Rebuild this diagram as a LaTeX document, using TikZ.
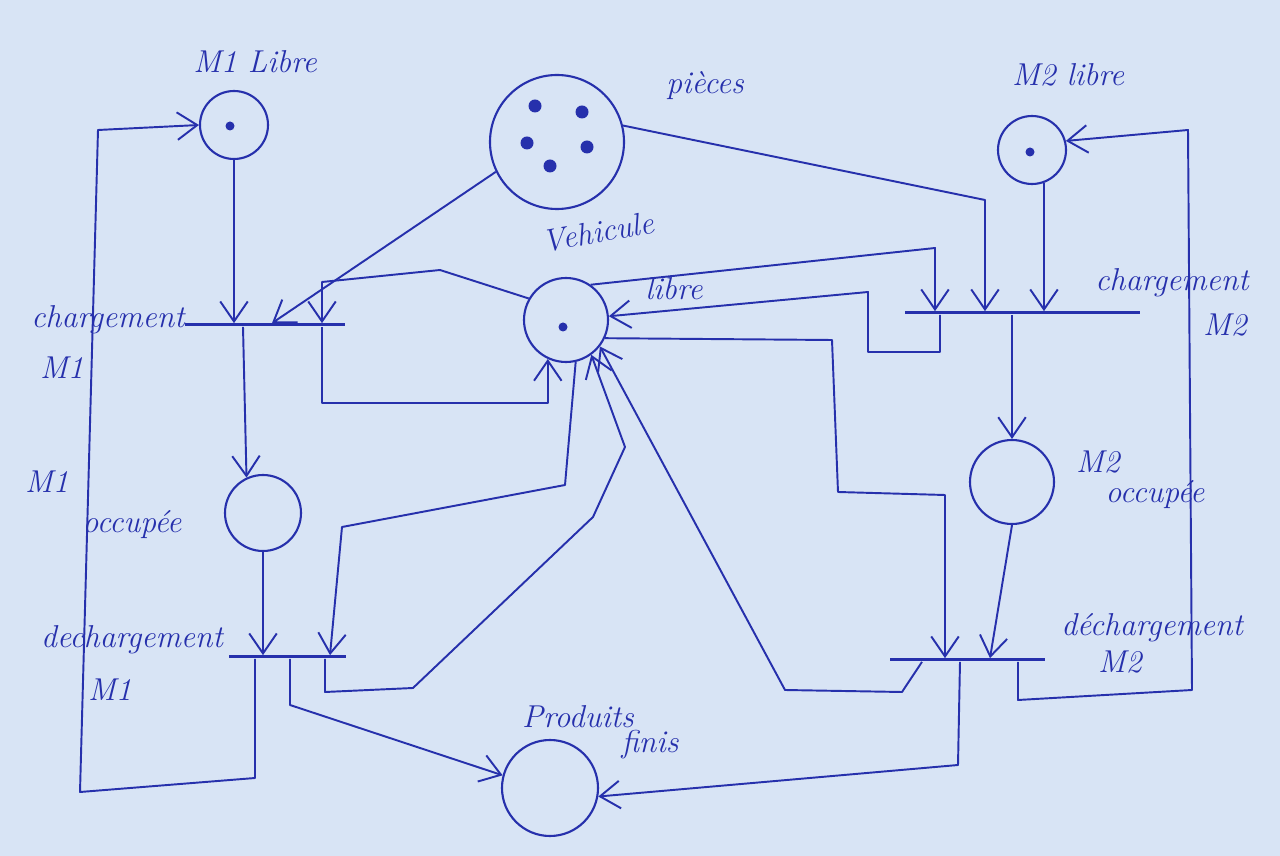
\documentclass[tikz,border=0pt]{standalone}
\usepackage{fontspec}
\usepackage{xcolor}
\usepackage{tikz}
\usetikzlibrary{arrows.meta,calc,positioning}
\definecolor{ink}{RGB}{38,48,172}
\definecolor{paper}{RGB}{216,228,245}

\begin{document}
\begin{tikzpicture}[font=\fontsize{18}{21}\selectfont\itshape,>={Straight Barb[length=4mm,width=5.5mm]},x=.2mm,y=-.2mm]
\tikzset{place/.style={circle,draw=ink,line width=1.2pt,inner sep=0pt,minimum size=#1},
bar/.style={fill=ink,inner sep=0pt,minimum height=.6mm,minimum width=#1},
tok/.style={circle,fill=ink,inner sep=0pt,minimum size=#1},
arc/.style={->,draw=ink,line width=1.1pt,line join=round},
lbl/.style={text=ink,inner sep=1pt}}
\fill[paper] (0,0) rectangle (1280,856);
% places
\node[place=1.36cm] (m1libre) at (234,125) {};
\node[place=2.68cm] (pieces) at (557,142) {};
\node[place=1.36cm] (m2libre) at (1032,150) {};
\node[place=1.68cm] (vehlibre) at (566,320) {};
\node[place=1.52cm] (m1occ) at (263,513) {};
\node[place=1.68cm] (m2occ) at (1012,482) {};
\node[place=1.92cm] (prodfinis) at (550,788) {};
% tokens
\node[tok=1.8mm] (tkm1) at (230,126) {};
\node[tok=1.8mm] (tkm2) at (1030,152) {};
\node[tok=1.8mm] (tkveh) at (563,327) {};
\foreach \p [count=\i] in {(535,106),(582,112),(527,143),(587,147),(550,166)}
  \node[tok=2.6mm] (tkp\i) at \p {};
% transitions
\node[bar=3.2cm] (chM1) at (265,325) {};
\node[bar=2.34cm] (dechM1) at (287,657) {};
\node[bar=4.7cm] (chM2) at (1022,313) {};
\node[bar=3.1cm] (dechM2) at (967,660) {};
% labels
\node[lbl] (tM1libre) at (255,62) {M1 Libre};
\node[lbl] (tpieces) at (705,86) {pièces};
\node[lbl] (tM2libre) at (1068,75) {M2 libre};
\node[lbl,rotate=10] (tveh) at (598,232) {Vehicule};
\node[lbl] (tvehb) at (674,289) {libre};
\node[lbl] (tchM1) at (108,320) {chargement};
\node[lbl] (tchM1b) at (62,368) {M1};
\node[lbl] (tM1occ) at (47,482) {M1};
\node[lbl] (tM1occb) at (132,525) {occupée};
\node[lbl] (tdechM1) at (132,640) {dechargement};
\node[lbl] (tdechM1b) at (110,690) {M1};
\node[lbl] (tchM2) at (1172,283) {chargement};
\node[lbl] (tchM2b) at (1225,325) {M2};
\node[lbl] (tM2occ) at (1098,462) {M2};
\node[lbl] (tM2occb) at (1155,495) {occupée};
\node[lbl] (tdechM2) at (1152,628) {déchargement};
\node[lbl] (tdechM2b) at (1120,662) {M2};
\node[lbl] (tprod) at (578,717) {Produits};
\node[lbl] (tprodb) at (650,745) {finis};
% arcs, machine 1
\draw[arc] (m1libre.south) -- (m1libre.south |- chM1.north);
\draw[arc] (pieces.206) -- (272,0 |- chM1.north);
\draw[arc] (vehlibre.150) -- (440,270) -- (322,282) -- (322,0 |- chM1.north);
\draw[arc] (243,0 |- chM1.south) -- (m1occ.115);
\draw[arc] (322,0 |- chM1.south) -- (322,403) -| (vehlibre.245);
\draw[arc] (m1occ.south) -- (m1occ.south |- dechM1.north);
\draw[arc] (vehlibre.283) -- (565,485) -- (342,527) -- (330,0 |- dechM1.north);
\draw[arc] (255,0 |- dechM1.south) -- (255,778) -- (80,792) -- (98,130) -- (m1libre.west);
\draw[arc] (290,0 |- dechM1.south) -- (290,705) -- (prodfinis.165);
\draw[arc] (325,0 |- dechM1.south) -- (325,692) -- (413,688) -- (593,517) -- (625,447) -- (vehlibre.306);
% arcs, machine 2
\draw[arc] (vehlibre.55) -- (935,248) -- (935,0 |- chM2.north);
\draw[arc] (940,0 |- chM2.south) -- (940,352) -- (868,352) -- (868,292) -- (vehlibre.5);
\draw[arc] (pieces.14) -- (985,200) -- (985,0 |- chM2.north);
\draw[arc] (m2libre.290) -- (m2libre.290 |- chM2.north);
\draw[arc] (m2occ.north |- chM2.south) -- (m2occ.north);
\draw[arc] (vehlibre.-25) -- (832,340) -- (838,492) -- (945,495) -- (945,0 |- dechM2.north);
\draw[arc] (m2occ.south) -- (990,0 |- dechM2.north);
\draw[arc] (922,0 |- dechM2.south) -- (902,692) -- (785,690) -- (vehlibre.-38);
\draw[arc] (960,0 |- dechM2.south) -- (958,765) -- (prodfinis.-10);
\draw[arc] (1018,0 |- dechM2.south) -- (1018,700) -- (1192,690) -- (1188,130) -- (m2libre.15);
\end{tikzpicture}
\end{document}
